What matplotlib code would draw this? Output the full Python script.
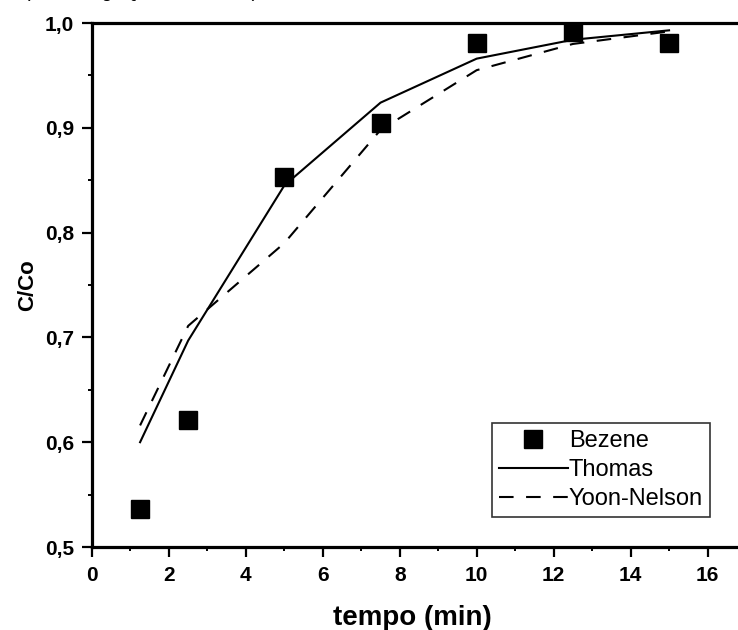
import matplotlib
matplotlib.use("Agg")
import matplotlib.pyplot as plt
from matplotlib.ticker import MultipleLocator, FuncFormatter

plt.rcParams['font.family'] = ['Liberation Sans', 'DejaVu Sans']

# breakthrough data
tempo = [1.25, 2.5, 5.0, 7.5, 10.0, 12.5, 15.0]
bezene = [0.536, 0.621, 0.853, 0.905, 0.981, 0.991, 0.981]
thomas = [0.600, 0.697, 0.845, 0.924, 0.966, 0.984, 0.993]
yoon_nelson = [0.616, 0.711, 0.790, 0.898, 0.955, 0.980, 0.992]

fig = plt.figure(figsize=(7.38, 6.30), dpi=100)
ax = fig.add_axes([92 / 738, 83 / 630, 654 / 738, 524 / 630])

ax.plot(tempo, bezene, 's', color='black', ms=13, label='Bezene', zorder=3)
ax.plot(tempo, thomas, '-', color='black', lw=1.5, label='Thomas')
ax.plot(tempo, yoon_nelson, color='black', lw=1.5, ls=(0, (7, 6)), label='Yoon-Nelson')

ax.set_xlim(0, 17)
ax.set_ylim(0.5, 1.0)
ax.xaxis.set_major_locator(MultipleLocator(2))
ax.xaxis.set_minor_locator(MultipleLocator(1))
ax.yaxis.set_major_locator(MultipleLocator(0.1))
ax.yaxis.set_minor_locator(MultipleLocator(0.05))
ax.yaxis.set_major_formatter(FuncFormatter(lambda v, p: f"{v:.1f}".replace('.', ',')))

for s in ax.spines.values():
    s.set_linewidth(2.3)

ax.tick_params(which='major', direction='out', length=7, width=1.6,
               labelsize=15, pad=6)
ax.tick_params(axis='x', which='major', pad=7)
ax.tick_params(which='minor', direction='out', length=3, width=1.4)
for lab in ax.get_xticklabels() + ax.get_yticklabels():
    lab.set_fontweight('bold')

ax.set_xlabel('tempo (min)', fontsize=20, fontweight='bold', va='center')
ax.xaxis.set_label_coords(0.49, -0.135)
ax.set_ylabel('C/Co', fontsize=16, fontweight='bold', va='center')
ax.yaxis.set_label_coords(-0.098, 0.5)

leg = ax.legend(loc='lower right', bbox_to_anchor=(0.945, 0.057),
                borderaxespad=0, fontsize=17, frameon=True, fancybox=False,
                edgecolor='black', handlelength=2.9, handletextpad=0.05,
                borderpad=0.3, labelspacing=0.3)
leg.get_frame().set_linewidth(1.2)

# caption line above the plot, mostly outside the canvas
fig.text(258 / 738, 1.0 + 3 / 630, '(m = 1,0 g, Q = 10 mL/min)', ha='right',
         va='baseline', fontsize=14)

fig.savefig('out.png', dpi=100)
